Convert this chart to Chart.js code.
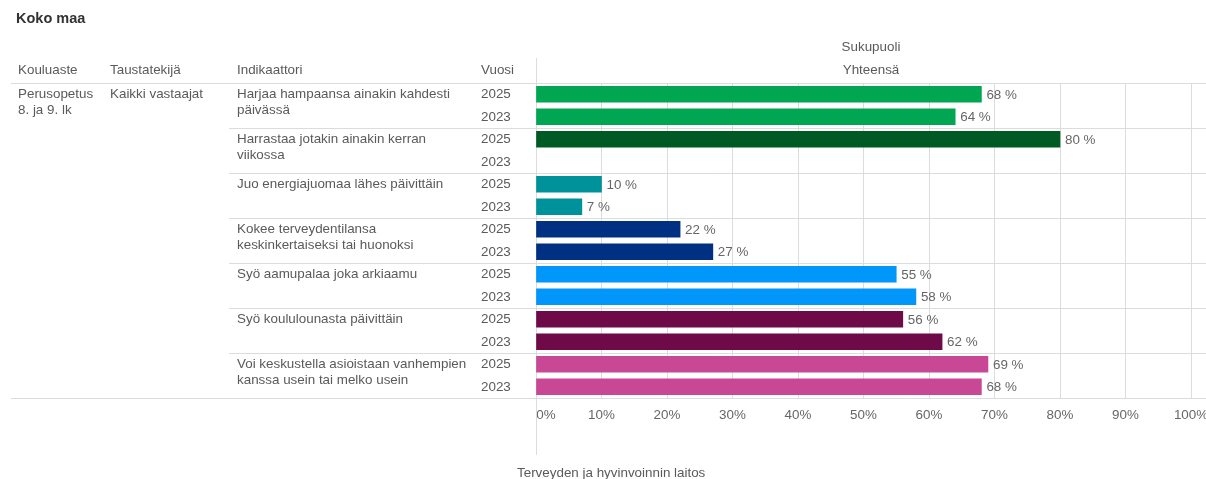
<!DOCTYPE html>
<html><head><meta charset="utf-8">
<script src="https://cdn.jsdelivr.net/npm/chart.js@4.4.1/dist/chart.umd.min.js"></script>
<style>
html,body{margin:0;padding:0;background:#fff;overflow:hidden}
#wrap{position:relative;width:1206px;height:479px;font-family:"Liberation Sans",Arial,sans-serif;font-size:13.4px;color:#5a5a5a}
#c{position:absolute;left:0;top:0}
#ov{position:absolute;left:0;top:0;width:1206px;height:479px;pointer-events:none}
.t{position:absolute;white-space:nowrap;line-height:16px}
</style></head><body>
<div id="wrap"><canvas id="c" width="1206" height="479"></canvas><div id="ov"></div></div>
<script>
const title = "Koko maa";
const columnHeaders = ["Kouluaste", "Taustatekijä", "Indikaattori", "Vuosi"];
const seriesHeader = "Sukupuoli";
const seriesName = "Yhteensä";
const schoolLevel = ["Perusopetus", "8. ja 9. lk"];
const backgroundFactor = "Kaikki vastaajat";
const indicators = [
  ["Harjaa hampaansa ainakin kahdesti", "päivässä"],
  ["Harrastaa jotakin ainakin kerran", "viikossa"],
  ["Juo energiajuomaa lähes päivittäin"],
  ["Kokee terveydentilansa", "keskinkertaiseksi tai huonoksi"],
  ["Syö aamupalaa joka arkiaamu"],
  ["Syö koululounasta päivittäin"],
  ["Voi keskustella asioistaan vanhempien", "kanssa usein tai melko usein"]
];
const years = ["2025", "2023"];
const values2025 = [68, 80, 10, 22, 55, 56, 69];
const values2023 = [64, null, 7, 27, 58, 62, 68];
const indicatorColors = ["#00a651", "#005a24", "#00929b", "#003082", "#0096fa", "#6e0a48", "#c84896"];
const xMin = 0, xMax = 100, xStep = 10;
const sourceText = "Terveyden ja hyvinvoinnin laitos";

const labels = [], data = [], colors = [];
indicators.forEach((ind, i) => {
  [values2025, values2023].forEach((arr, j) => {
    labels.push(ind.join(" ") + " " + years[j]);
    data.push(arr[i]);
    colors.push(indicatorColors[i]);
  });
});

const GRID = "#dcdcdc";
const FONT = '"Liberation Sans", Arial, sans-serif';

function slotInfo(chart) {
  const y = chart.scales.y;
  const p0 = y.getPixelForValue(0), p1 = y.getPixelForValue(1);
  return { y, half: (p1 - p0) / 2 };
}

const linesPlugin = {
  id: "lines",
  beforeDatasetsDraw(chart) {
    const ctx = chart.ctx, a = chart.chartArea;
    const { y, half } = slotInfo(chart);
    ctx.save();
    ctx.strokeStyle = GRID;
    ctx.lineWidth = 1;
    for (let g = 0; g <= indicators.length; g++) {
      const py = Math.round(y.getPixelForValue(g * 2) - half) + 0.5;
      const x0 = (g === 0 || g === indicators.length) ? 11 : 229;
      ctx.beginPath(); ctx.moveTo(x0, py); ctx.lineTo(1206, py); ctx.stroke();
    }
    const ax = Math.round(a.left) + 0.5;
    ctx.beginPath(); ctx.moveTo(ax, 58); ctx.lineTo(ax, 455); ctx.stroke();
    ctx.restore();
  },
  afterDatasetsDraw(chart) {
    const ctx = chart.ctx;
    const meta = chart.getDatasetMeta(0);
    ctx.save();
    ctx.fillStyle = "#666";
    ctx.font = "13.4px " + FONT;
    ctx.textBaseline = "middle";
    ctx.textAlign = "left";
    meta.data.forEach((bar, i) => {
      const v = data[i];
      if (v === null || v === undefined) return;
      ctx.fillText(v + " %", bar.x + 5, bar.y + 1);
    });
    ctx.restore();
  }
};

let built = false;
const textPlugin = {
  id: "texts",
  afterRender(chart) {
    if (built) return;
    built = true;
    const ov = document.getElementById("ov");
    const a = chart.chartArea;
    const { y } = slotInfo(chart);
    const add = (txt, left, top, extra) => {
      const d = document.createElement("div");
      d.className = "t";
      d.textContent = txt;
      d.style.left = left + "px";
      d.style.top = top + "px";
      if (extra) Object.assign(d.style, extra);
      ov.appendChild(d);
      return d;
    };
    add(title, 16, 10, { fontWeight: "bold", color: "#333", fontSize: "14.5px" });
    const colX = [18, 110, 237, 481];
    columnHeaders.forEach((h, i) => add(h, colX[i], 62));
    const mid = (a.left + 1206) / 2;
    add(seriesHeader, mid, 39, { transform: "translateX(-50%)" });
    add(seriesName, mid, 62, { transform: "translateX(-50%)" });
    const r0 = y.getPixelForValue(0);
    schoolLevel.forEach((s, k) => add(s, colX[0], r0 - 8 + k * 16));
    add(backgroundFactor, colX[1], r0 - 8);
    indicators.forEach((ind, i) => {
      const ry = y.getPixelForValue(i * 2);
      ind.forEach((line, k) => add(line, colX[2], ry - 8 + k * 16));
      years.forEach((yr, j) => add(yr, colX[3], y.getPixelForValue(i * 2 + j) - 8));
    });
    add(sourceText, 517, 465);
  }
};

new Chart(document.getElementById("c"), {
  type: "bar",
  data: {
    labels,
    datasets: [{ data, backgroundColor: colors, borderWidth: 0, barThickness: 16 }]
  },
  options: {
    indexAxis: "y",
    responsive: false,
    animation: false,
    devicePixelRatio: 1,
    layout: { padding: { left: 536, right: 15, top: 83, bottom: 51 } },
    plugins: { legend: { display: false }, tooltip: { enabled: false } },
    scales: {
      x: {
        min: xMin, max: xMax,
        ticks: {
          stepSize: xStep,
          color: "#666",
          padding: 9,
          font: { size: 13.4, family: FONT },
          maxRotation: 0,
          autoSkip: false,
          callback: v => (v === 0 ? "\u2003\u2002" + v + "%" : v + "%")
        },
        grid: { color: GRID, drawTicks: false },
        border: { display: false },
        afterFit: s => { s.height = 30; s.paddingLeft = 0; s.paddingRight = 0; }
      },
      y: { display: false }
    }
  },
  plugins: [linesPlugin, textPlugin]
});
</script>
</body></html>
